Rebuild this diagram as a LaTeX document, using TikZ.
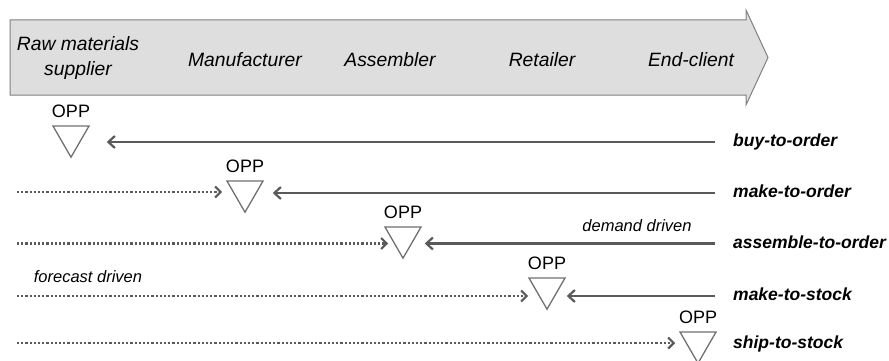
\documentclass[tikz,border=0pt]{standalone}
\usepackage{fontspec}
\setmainfont{Liberation Sans}
\usetikzlibrary{arrows.meta,shapes.geometric,positioning}
\definecolor{bandfill}{HTML}{DEDEDE}
\definecolor{bandline}{HTML}{808080}
\definecolor{flowgray}{HTML}{5A5A5A}
\definecolor{oppgray}{HTML}{707070}
\tikzset{
  actor/.style={font=\fontsize{19.3}{25}\selectfont\itshape, align=center, inner sep=0pt},
  strategy/.style={font=\fontsize{17.5}{20}\selectfont\bfseries\itshape, anchor=base west, inner sep=0pt},
  driver/.style={font=\fontsize{16.5}{20}\selectfont\itshape, inner sep=0pt},
  opp/.style={draw=oppgray, line width=1.3pt, regular polygon, regular polygon sides=3,
    shape border rotate=180, minimum size=41.6pt, inner sep=0pt},
  opplabel/.style={font=\fontsize{18}{20}\selectfont, inner sep=0pt},
  demand/.style={draw=flowgray, line width=2.2pt, -{Straight Barb[length=6.5pt,width=12pt,line width=2.2pt]}},
  forecast/.style={draw=flowgray, line width=2.2pt, dash pattern=on 2.2pt off 2pt,
    -{Straight Barb[length=5.5pt,width=11pt,line width=2.2pt]}}
}
\begin{document}
\begin{tikzpicture}[x=1pt,y=1pt]
\useasboundingbox (0,0) rectangle (889,-361);
% supply chain band
\draw [bandline, fill=bandfill, line width=1pt] (10,-20) -- (746,-20) -- (746,-10) -- (768,-57.5)
  -- (746,-105) -- (746,-95) -- (10,-95) -- cycle;
\node [actor] (raw) at (78,-58) {Raw materials\\supplier};
\node [actor] (man) at (245,-60) {Manufacturer};
\node [actor] (ass) at (390,-60) {Assembler};
\node [actor] (ret) at (542,-60) {Retailer};
\node [actor] (end) at (691,-60) {End-client};
% order penetration points
\node [opp] (opp1) at (71,-136.4) {};
\node [opp] (opp2) at (245,-191.4) {};
\node [opp] (opp3) at (403,-237.4) {};
\node [opp] (opp4) at (547,-288.4) {};
\node [opp] (opp5) at (698,-342.4) {};
\foreach \i in {1,...,5}
  \node [opplabel, above=7pt of opp\i.north] (lab\i) {OPP};
% strategies
\node [strategy] (bto) at (733,-146) {buy-to-order};
\node [strategy] (mto) at (733,-197) {make-to-order};
\node [strategy] (ato) at (733,-248) {assemble-to-order};
\node [strategy] (mts) at (733,-300) {make-to-stock};
\node [strategy] (sts) at (733,-348) {ship-to-stock};
\coordinate (r1) at (715,-142);
\coordinate (r2) at (715,-193);
\coordinate (r3) at (715,-243.5);
\coordinate (r4) at (715,-296);
\coordinate (l2) at (17,-192);
\coordinate (l3) at (17,-243.5);
\coordinate (l4) at (17,-296);
\coordinate (l5) at (17,-343);
% demand driven flows
\draw [demand] (r1) -- ([xshift=23pt]opp1.east |- r1);
\draw [demand] (r2) -- ([xshift=15pt]opp2.east |- r2);
\draw [demand] (r3) -- ([xshift=9pt]opp3.east |- r3);
\draw [demand] (r4) -- ([xshift=7pt]opp4.east |- r4);
% forecast driven flows
\draw [forecast] (l2) -- ([xshift=-10pt]opp2.west |- l2);
\draw [forecast] (l3) -- ([xshift=-2pt]opp3.west |- l3);
\draw [forecast] (l4) -- ([xshift=-6pt]opp4.west |- l4);
\draw [forecast] (l5) -- ([xshift=-10pt]opp5.west |- l5);
\node [driver] (dem) at (637,-226) {demand driven};
\node [driver] (fore) at (88,-277) {forecast driven};
\end{tikzpicture}
\end{document}
